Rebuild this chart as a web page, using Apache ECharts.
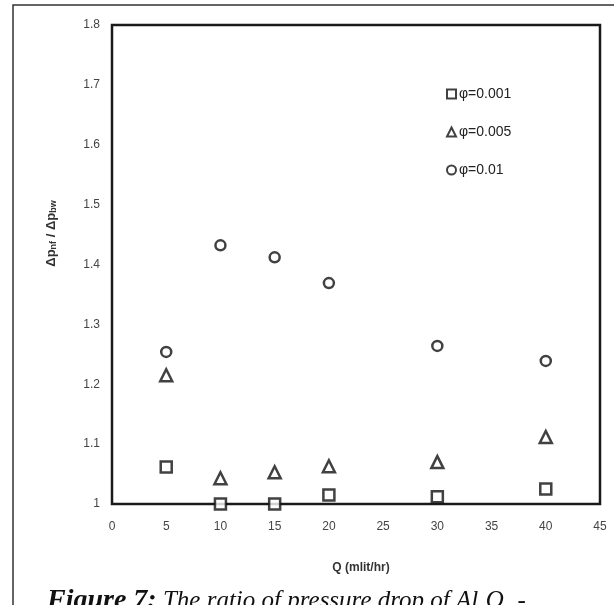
<!DOCTYPE html>
<html>
<head>
<meta charset="utf-8">
<script src="https://cdn.jsdelivr.net/npm/echarts@6/dist/echarts.min.js"></script>
<style>html,body{margin:0;padding:0;background:#fff}#c{width:614px;height:605px}</style>
</head>
<body>
<div id="c"></div>
<script>
var qValues = [5, 10, 15, 20, 30, 40];
var phi001 = [1.062, 1.000, 1.000, 1.015, 1.012, 1.025];
var phi005 = [1.215, 1.043, 1.053, 1.063, 1.070, 1.112];
var phi01  = [1.254, 1.432, 1.412, 1.369, 1.264, 1.239];
var seriesNames = ['φ=0.001', 'φ=0.005', 'φ=0.01'];
var seriesSymbols = ['rect', 'triangle', 'circle'];

function pairs(ys) { return qValues.map(function (q, i) { return [q, ys[i]]; }); }
var allData = [phi001, phi005, phi01];

var chart = echarts.init(document.getElementById('c'));
var markerStyle = { color: '#fff', borderColor: '#111', borderWidth: 2.5 };
chart.setOption({
  animation: false,
  backgroundColor: '#fff',
  grid: { left: 112, top: 25, right: 14, bottom: 101, show: true, borderColor: '#1a1a1a', borderWidth: 2.5, backgroundColor: 'transparent' },
  legend: {
    orient: 'vertical', left: 446, top: 87, itemGap: 24, itemWidth: 9, itemHeight: 9, padding: 0,
    textStyle: { fontFamily: 'Liberation Sans, Arial', fontSize: 14, color: '#222', padding: [0, 0, 0, -2] },
    data: seriesNames.map(function (n, i) { return { name: n, icon: seriesSymbols[i] }; }),
    itemStyle: { color: '#fff', borderColor: '#111', borderWidth: 2 }
  },
  xAxis: {
    type: 'value', min: 0, max: 45, interval: 5,
    name: 'Q (mlit/hr)', nameLocation: 'middle', nameGap: 58,
    nameTextStyle: { fontFamily: 'Liberation Sans, Arial', fontSize: 12, fontWeight: 'bold', color: '#333', padding: [0, 0, 0, 10] },
    axisLine: { show: false }, axisTick: { show: false }, splitLine: { show: false },
    axisLabel: { margin: 17, fontFamily: 'Liberation Sans, Arial', fontSize: 12, color: '#444' }
  },
  yAxis: {
    type: 'value', min: 1, max: 1.8, interval: 0.1,
    name: '{n|Δp}{s|nf}{n| / Δp}{s|bw}', nameLocation: 'middle', nameGap: 54, nameRotate: 90,
    nameTextStyle: {
      padding: [0, 0, 0, 62],
      rich: {
        n: { fontFamily: 'Liberation Sans, Arial', fontSize: 13, fontWeight: 'bold', color: '#333' },
        s: { fontFamily: 'Liberation Sans, Arial', fontSize: 9, fontWeight: 'bold', color: '#333', verticalAlign: 'bottom', padding: [5, 0, 0, 0] }
      }
    },
    axisLine: { show: false }, axisTick: { show: false }, splitLine: { show: false },
    axisLabel: { margin: 12, fontFamily: 'Liberation Sans, Arial', fontSize: 12, color: '#444',
      formatter: function (v) { return Math.abs(v - 1) < 1e-9 ? '1' : v.toFixed(1); } }
  },
  series: seriesNames.map(function (n, i) {
    return {
      name: n, type: 'scatter', symbol: seriesSymbols[i],
      symbolSize: i === 0 ? 11 : (i === 1 ? 12 : 10),
      data: pairs(allData[i]), itemStyle: markerStyle, clip: false
    };
  }),
  graphic: [
    { type: 'rect', shape: { x: 13, y: 5, width: 700, height: 700 }, style: { fill: 'none', stroke: '#333', lineWidth: 1.5 }, silent: true },
    { type: 'text', left: 47, top: 587, style: {
        text: '{b|Figure 7:} The ratio of pressure drop of Al{s|2}O{s|3} -',
        font: 'italic 25px "Liberation Serif"', fill: '#111',
        rich: {
          b: { font: 'italic bold 28px "Liberation Serif"', fill: '#111' },
          s: { font: 'italic 15px "Liberation Serif"', fill: '#111', padding: [20, 0, 0, 0] }
        }
      } }
  ]
});
</script>
</body>
</html>
